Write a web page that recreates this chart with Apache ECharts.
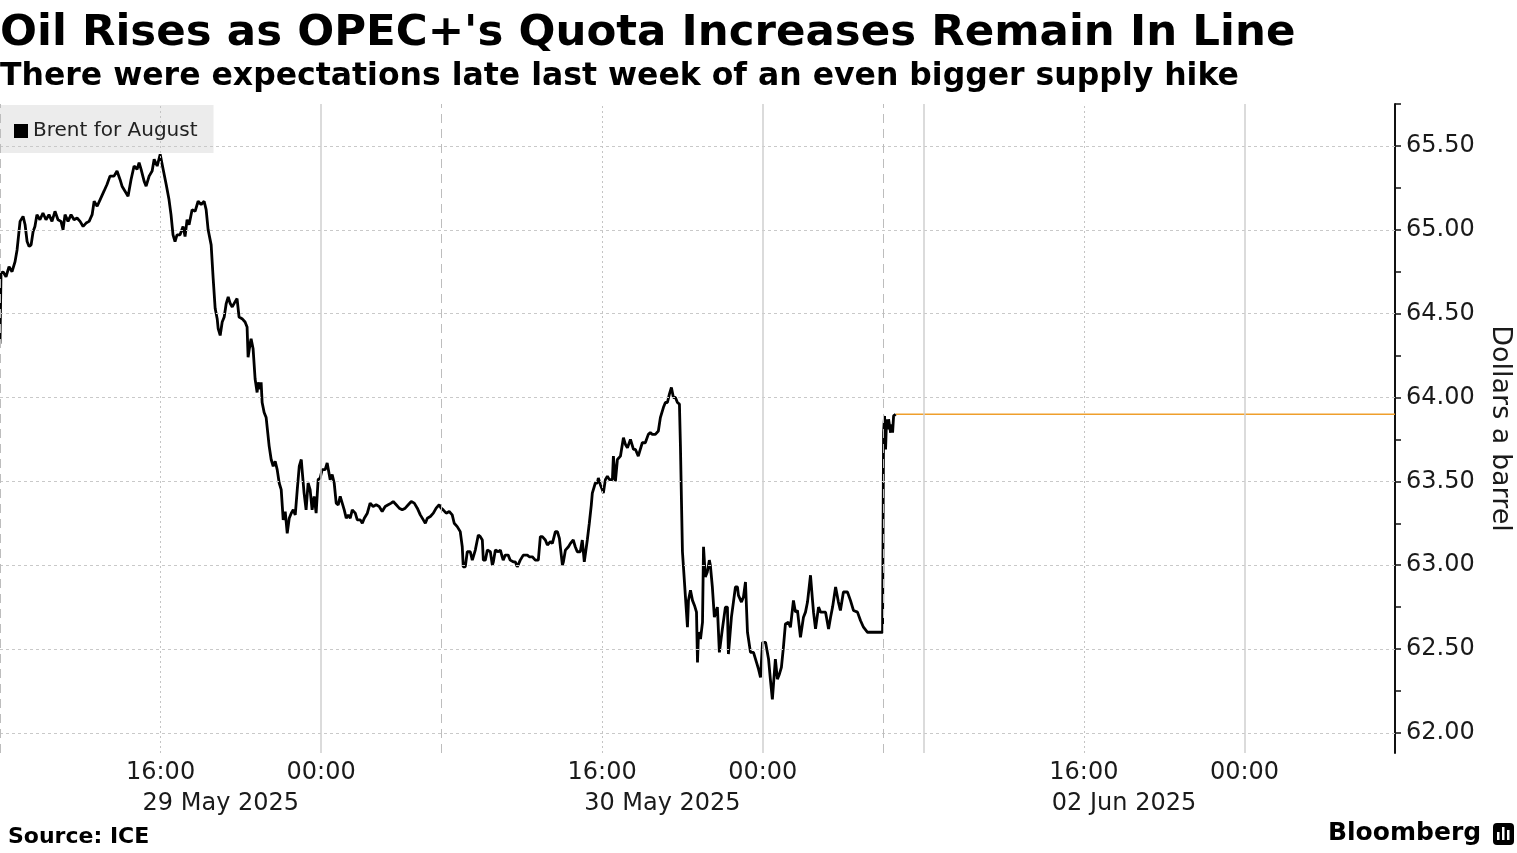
<!DOCTYPE html>
<html>
<head>
<meta charset="utf-8">
<script src="https://cdn.jsdelivr.net/npm/echarts@6/dist/echarts.min.js"></script>
<style>
html,body{margin:0;padding:0;background:#fff;}
#chart{width:1517px;height:853px;}
</style>
</head>
<body>
<div id="chart"></div>
<script>
// x values are trading hours since the 29 May session open (non-trading gaps removed)
const session29May = [[0.00,64.32],[0.05,64.74],[0.15,64.75],[0.30,64.72],[0.45,64.78],[0.60,64.75],[0.75,64.81],[0.85,64.88],[1.00,65.05],[1.15,65.08],[1.25,65.03],[1.35,64.93],[1.45,64.90],[1.55,64.91],[1.65,64.99],[1.74,65.02],[1.84,65.09],[1.99,65.06],[2.14,65.10],[2.29,65.06],[2.44,65.09],[2.59,65.05],[2.74,65.11],[2.89,65.06],[3.04,65.05],[3.14,65.00],[3.24,65.09],[3.39,65.05],[3.54,65.09],[3.69,65.06],[3.84,65.07],[3.99,65.05],[4.14,65.02],[4.29,65.04],[4.44,65.05],[4.59,65.09],[4.69,65.17],[4.84,65.14],[4.99,65.18],[5.18,65.23],[5.33,65.27],[5.48,65.32],[5.68,65.32],[5.83,65.35],[5.98,65.30],[6.08,65.26],[6.23,65.23],[6.38,65.20],[6.53,65.30],[6.68,65.38],[6.83,65.36],[6.93,65.40],[7.03,65.36],[7.18,65.29],[7.28,65.26],[7.43,65.32],[7.58,65.35],[7.68,65.42],[7.83,65.38],[7.98,65.45],[8.13,65.36],[8.28,65.27],[8.42,65.18],[8.52,65.09],[8.62,64.97],[8.72,64.93],[8.82,64.97],[8.97,64.97],[9.12,65.02],[9.22,64.96],[9.32,65.06],[9.42,65.03],[9.57,65.12],[9.72,65.11],[9.87,65.17],[10.02,65.15],[10.17,65.17],[10.27,65.12],[10.37,65.00],[10.52,64.91],[10.62,64.71],[10.72,64.53],[10.82,64.47],[10.87,64.41],[10.97,64.37],[11.07,64.45],[11.17,64.48],[11.27,64.56],[11.37,64.60],[11.47,64.56],[11.57,64.54],[11.71,64.57],[11.81,64.59],[11.91,64.48],[12.06,64.47],[12.21,64.45],[12.31,64.42],[12.36,64.24],[12.46,64.32],[12.51,64.35],[12.61,64.29],[12.71,64.11],[12.81,64.03],[12.86,64.09],[12.96,64.05],[13.01,64.09],[13.06,63.97],[13.16,63.91],[13.26,63.88],[13.31,63.87],[13.41,63.71],[13.51,63.63],[13.61,63.59],[13.71,63.62],[13.81,63.57],[13.91,63.49],[14.01,63.45],[14.11,63.27],[14.21,63.32],[14.31,63.19],[14.41,63.28],[14.51,63.31],[14.61,63.33],[14.71,63.30],[14.81,63.45],[14.91,63.59],[15.01,63.63],[15.05,63.57],[15.15,63.43],[15.25,63.33],[15.35,63.49],[15.45,63.45],[15.55,63.33],[15.65,63.41],[15.75,63.31],[15.85,63.51],[15.95,63.52],[16.05,63.57],[16.20,63.57],[16.30,63.61],[16.45,63.51],[16.55,63.54],[16.65,63.49],[16.75,63.37],[16.85,63.36],[16.95,63.41],[17.05,63.37],[17.15,63.33],[17.25,63.28],[17.35,63.30],[17.45,63.28],[17.55,63.33],[17.70,63.31],[17.80,63.27],[17.95,63.27],[18.05,63.25],[18.15,63.28],[18.30,63.31],[18.44,63.37],[18.59,63.35],[18.74,63.36],[18.89,63.35],[19.04,63.32],[19.19,63.35],[19.34,63.36],[19.49,63.37],[19.59,63.38],[19.74,63.36],[19.89,63.34],[20.04,63.33],[20.19,63.34],[20.34,63.36],[20.49,63.38],[20.64,63.37],[20.79,63.34],[20.94,63.30],[21.09,63.27],[21.19,63.25],[21.29,63.28],[21.44,63.29],[21.59,63.31],[21.73,63.34],[21.88,63.36],[21.98,63.34]];
const session30May = [[22.08,63.33],[22.23,63.31],[22.38,63.32],[22.53,63.30],[22.63,63.25],[22.78,63.23],[22.93,63.20],[23.03,63.11],[23.08,62.99],[23.18,62.99],[23.28,63.08],[23.43,63.08],[23.53,63.03],[23.58,63.05],[23.68,63.09],[23.83,63.18],[23.93,63.17],[24.03,63.15],[24.08,63.03],[24.18,63.03],[24.28,63.09],[24.43,63.08],[24.53,63.00],[24.58,63.02],[24.68,63.09],[24.83,63.08],[24.93,63.09],[25.02,63.05],[25.07,63.03],[25.17,63.06],[25.32,63.06],[25.42,63.03],[25.57,63.02],[25.67,63.02],[25.77,62.99],[25.92,63.03],[26.07,63.06],[26.27,63.06],[26.37,63.05],[26.52,63.05],[26.57,63.06],[26.67,63.03],[26.82,63.03],[26.92,63.17],[27.02,63.17],[27.17,63.15],[27.27,63.12],[27.42,63.14],[27.52,63.13],[27.67,63.20],[27.77,63.20],[27.87,63.16],[28.02,63.00],[28.07,63.02],[28.17,63.09],[28.32,63.11],[28.42,63.13],[28.56,63.15],[28.66,63.11],[28.76,63.08],[28.91,63.08],[29.01,63.15],[29.11,63.02],[29.16,63.02],[29.26,63.15],[29.36,63.25],[29.46,63.36],[29.51,63.43],[29.66,63.49],[29.76,63.49],[29.81,63.52],[29.91,63.48],[30.01,63.45],[30.06,63.43],[30.16,63.51],[30.26,63.53],[30.36,63.51],[30.51,63.51],[30.56,63.65],[30.66,63.50],[30.76,63.63],[30.91,63.65],[31.06,63.76],[31.16,63.72],[31.26,63.70],[31.41,63.75],[31.56,63.69],[31.66,63.69],[31.80,63.65],[31.90,63.69],[32.00,63.73],[32.15,63.73],[32.30,63.78],[32.40,63.79],[32.50,63.78],[32.65,63.78],[32.80,63.80],[32.90,63.88],[33.05,63.94],[33.15,63.97],[33.25,63.97],[33.35,64.02],[33.45,64.06],[33.55,64.00],[33.65,64.00],[33.75,63.97],[33.85,63.96],[33.90,63.71],[33.95,63.39],[34.00,63.08],[34.05,62.99],[34.15,62.81],[34.25,62.63],[34.30,62.79],[34.40,62.85],[34.50,62.79],[34.60,62.76],[34.70,62.72],[34.75,62.42],[34.80,62.60],[34.90,62.56],[35.00,62.66],[35.05,63.11],[35.14,62.93],[35.24,62.96],[35.34,63.03],[35.39,63.00],[35.49,62.87],[35.59,62.69],[35.74,62.75],[35.84,62.48],[35.99,62.62],[36.14,62.75],[36.24,62.75],[36.29,62.47],[36.44,62.69],[36.54,62.78],[36.64,62.87],[36.74,62.87],[36.79,62.82],[36.94,62.78],[37.04,62.81],[37.14,62.90],[37.24,62.60],[37.39,62.48],[37.54,62.48],[37.69,62.42],[37.79,62.38],[37.89,62.33],[37.99,62.54],[38.14,62.54],[38.29,62.44],[38.38,62.32],[38.48,62.20],[38.63,62.44],[38.73,62.32],[38.83,62.35],[38.93,62.39],[39.03,62.51],[39.13,62.65],[39.28,62.66],[39.38,62.63],[39.53,62.79],[39.63,62.72],[39.73,62.73],[39.88,62.57],[40.03,62.69],[40.13,62.72],[40.23,62.78],[40.38,62.94],[40.48,62.79],[40.53,62.72],[40.63,62.62],[40.78,62.75],[40.88,62.72],[40.98,62.72],[41.13,62.72],[41.28,62.62],[41.38,62.69],[41.48,62.75],[41.63,62.87],[41.77,62.78],[41.87,62.73],[42.02,62.84],[42.22,62.84],[42.37,62.79],[42.52,62.73],[42.72,62.72],[42.87,62.67],[43.02,62.63],[43.22,62.60],[43.47,62.60],[43.72,62.60],[43.87,62.60],[43.97,62.60]];
const session02Jun = [[44.02,63.79],[44.07,63.89],[44.12,63.69],[44.17,63.87],[44.22,63.81],[44.27,63.87],[44.37,63.79],[44.42,63.84],[44.47,63.79],[44.52,63.89],[44.62,63.90]];

const lastPrice = 63.90;
const axisEndHour = 69.5;

const timeTickPos = [8, 16, 30, 38, 54, 62];
const timeTickLabels = ['16:00', '00:00', '16:00', '00:00', '16:00', '00:00'];
const dateTickPos = [11, 33, 56];
const dateTickLabels = ['29 May 2025', '30 May 2025', '02 Jun 2025'];
const priceLabelTicks = [62, 62.5, 63, 63.5, 64, 64.5, 65, 65.5];
const priceMinorTicks = [62, 62.25, 62.5, 62.75, 63, 63.25, 63.5, 63.75, 64, 64.25, 64.5, 64.75, 65, 65.25, 65.5, 65.75];
const dottedLines = [8, 30, 54];
const solidLines = [16, 38, 46, 62];
const sessionBreaks = [0, 22, 44];

const FONT = 'DejaVu Sans';
const brent = session29May.concat(session30May, session02Jun);
const lastHour = session02Jun[session02Jun.length - 1][0];

const markData = [];
priceLabelTicks.forEach(v => markData.push({yAxis: v, lineStyle: {color: '#c9c9c9', width: 1, type: [3, 3]}}));
dottedLines.forEach(v => markData.push({xAxis: v, lineStyle: {color: '#c4c4c4', width: 1, type: [2, 3]}}));
solidLines.forEach(v => markData.push({xAxis: v, lineStyle: {color: '#cfcfcf', width: 1.5, type: 'solid'}}));
sessionBreaks.forEach(v => markData.push({xAxis: v, lineStyle: {color: '#bdbdbd', width: 1, type: [9, 6]}}));

const chart = echarts.init(document.getElementById('chart'), null, {renderer: 'canvas'});
chart.setOption({
  animation: false,
  backgroundColor: '#ffffff',
  title: [
    {text: "Oil Rises as OPEC+'s Quota Increases Remain In Line", left: 0, top: 12, padding: 0,
     textStyle: {fontFamily: FONT, fontSize: 43.5, fontWeight: 'bold', color: '#000'}},
    {text: 'There were expectations late last week of an even bigger supply hike', left: 0, top: 61, padding: 0,
     textStyle: {fontFamily: FONT, fontSize: 31.5, fontWeight: 'bold', color: '#000'}}
  ],
  legend: {
    data: ['Brent for August'], left: 0, top: 105,
    backgroundColor: '#ececec', padding: [14, 16, 10, 14],
    icon: 'rect', itemWidth: 14, itemHeight: 14, itemGap: 5,
    textStyle: {fontFamily: FONT, fontSize: 20, color: '#222', lineHeight: 24}
  },
  grid: {left: 0, right: 122, top: 104, bottom: 100, containLabel: false, outerBoundsMode: 'none'},
  xAxis: [
    {type: 'value', min: 0, max: axisEndHour, position: 'bottom',
     axisLine: {show: false}, axisTick: {show: false}, splitLine: {show: false},
     axisLabel: {customValues: timeTickPos, margin: 8, fontFamily: FONT, fontSize: 24, color: '#1a1a1a',
       formatter: v => timeTickLabels[timeTickPos.indexOf(v)] || ''}},
    {type: 'value', min: 0, max: axisEndHour, position: 'bottom', offset: 31,
     axisLine: {show: false}, axisTick: {show: false}, splitLine: {show: false},
     axisLabel: {customValues: dateTickPos, margin: 8, fontFamily: FONT, fontSize: 24, color: '#1a1a1a',
       formatter: v => dateTickLabels[dateTickPos.indexOf(v)] || ''}}
  ],
  yAxis: {
    type: 'value', position: 'right', min: 61.88, max: 65.75, scale: true,
    axisLine: {show: true, onZero: false, lineStyle: {color: '#111', width: 2}},
    axisTick: {show: true, customValues: priceMinorTicks, length: 6, lineStyle: {color: '#111', width: 1.5}},
    splitLine: {show: false},
    axisLabel: {customValues: priceLabelTicks, margin: 11, padding: [5, 0, 0, 0], fontFamily: FONT, fontSize: 24, color: '#1a1a1a',
      formatter: v => v.toFixed(2)},
    name: 'Dollars a barrel', nameLocation: 'middle', nameRotate: -90, nameGap: 92,
    nameTextStyle: {fontFamily: FONT, fontSize: 27, color: '#1a1a1a'}
  },
  series: [
    {name: 'Last price', type: 'line', xAxisIndex: 1, symbol: 'none', silent: true,
     data: [[lastHour, lastPrice], [axisEndHour, lastPrice]],
     lineStyle: {color: '#ef9f2c', width: 1.3}, z: 1,
     markLine: {silent: true, symbol: 'none', label: {show: false}, emphasis: {disabled: true}, data: markData}},
    {name: 'Brent for August', type: 'line', xAxisIndex: 0, symbol: 'none', data: brent,
     itemStyle: {color: '#000'}, lineStyle: {color: '#000', width: 2.8}, z: 3}
  ],
  graphic: [
    {type: 'text', left: 8, top: 826, style: {text: 'Source: ICE', font: 'bold 22px "DejaVu Sans"', fill: '#000'}},
    {type: 'text', left: 1328, top: 821, style: {text: 'Bloomberg', font: 'bold 25px "DejaVu Sans"', fill: '#000'}},
    {type: 'group', left: 1493, top: 823, children: [
      {type: 'rect', shape: {x: 0, y: 0, width: 21, height: 22, r: 4}, style: {fill: '#000'}},
      {type: 'rect', shape: {x: 4, y: 9, width: 2.5, height: 8}, style: {fill: '#fff'}},
      {type: 'rect', shape: {x: 9, y: 4, width: 2.5, height: 13}, style: {fill: '#fff'}},
      {type: 'rect', shape: {x: 14, y: 7, width: 2.5, height: 10}, style: {fill: '#fff'}}
    ]}
  ]
});
</script>
</body>
</html>
